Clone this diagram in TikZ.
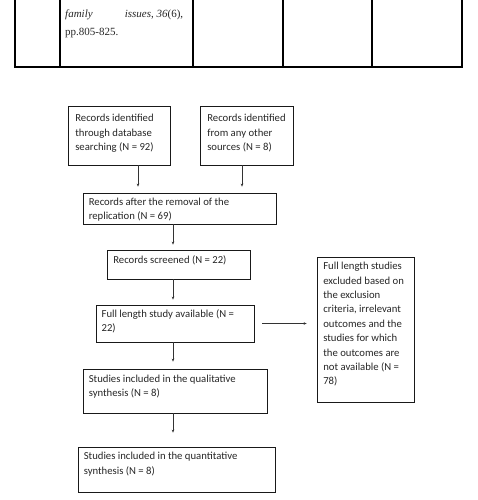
\documentclass[tikz,border=0pt]{standalone}
\usepackage{fontspec}
\setmainfont{Carlito}
\newfontfamily\tabfont{Liberation Serif}
\usetikzlibrary{arrows.meta,calc}
\begin{document}
\begin{tikzpicture}[x=1pt,y=-1pt,
 box/.style={draw=black!90, line width=0.8pt, inner sep=0pt, rectangle},
 txt/.style={anchor=north west, inner sep=0pt, align=left, font=\fontsize{10.7}{14.4}\selectfont, text=black!85},
 arr/.style={draw=black!80, line width=0.7pt, -{Stealth[length=3pt,width=2.6pt]}},
 tabline/.style={line width=1.1pt},
 tabtxt/.style={anchor=base west, inner sep=0pt, font=\tabfont\fontsize{11}{18}\selectfont, text=black!85}]
\useasboundingbox (0,0) rectangle (477,500);
% table fragment
\draw[tabline] (15,0) -- (15,67) -- (462,67) -- (462,0);
\foreach \x in {60,193,283,372} \draw[tabline] (\x,0) -- (\x,67);
\node[tabtxt] (ref1) at (65,18) {\hbox to 118pt{\textit{family}\hfil\textit{issues}, \textit{36}(6),}};
\node[tabtxt] (ref2) at (65,36) {pp.805-825.};
% boxes
\node[box, minimum width=102pt, minimum height=59pt] (b1) at (119,135.5) {};
\node[txt] (t1) at ([xshift=7.5pt,yshift=-8.5pt]b1.north west) {Records identified\\through database\\searching (N = 92)};
\node[box, minimum width=93pt, minimum height=59pt] (b2) at (246.5,135.5) {};
\node[txt] (t2) at ([xshift=7.5pt,yshift=-8.5pt]b2.north west) {Records identified\\from any other\\sources (N = 8)};
\node[box, minimum width=193pt, minimum height=31pt] (b3) at (179.5,208.5) {};
\node[txt] (t3) at ([xshift=6pt,yshift=-5.2pt]b3.north west) {Records after the removal of the\\replication (N = 69)};
\node[box, minimum width=143pt, minimum height=29pt] (b4) at (178.5,264.5) {};
\node[txt] (t4) at ([xshift=6.5pt,yshift=-5.8pt]b4.north west) {Records screened (N = 22)};
\node[box, minimum width=158pt, minimum height=37pt] (b5) at (175,323.5) {};
\node[txt] (t5) at ([xshift=5.8pt,yshift=-4.8pt]b5.north west) {Full length study available (N =\\22)};
\node[box, minimum width=184pt, minimum height=44pt] (b6) at (175,391) {};
\node[txt] (t6) at ([xshift=6pt,yshift=-5.8pt]b6.north west) {Studies included in the qualitative\\synthesis (N = 8)};
\node[box, minimum width=197pt, minimum height=45pt] (b7) at (176.5,469.5) {};
\node[txt] (t7) at ([xshift=6pt,yshift=-5.5pt]b7.north west) {Studies included in the quantitative\\synthesis (N = 8)};
\node[box, minimum width=97pt, minimum height=145pt] (b8) at (365.5,329.5) {};
\node[txt] (t8) at ([xshift=6.5pt,yshift=-5.5pt]b8.north west) {Full length studies\\excluded based on\\the exclusion\\criteria, irrelevant\\outcomes and the\\studies for which\\the outcomes are\\not available (N =\\78)};
% connectors
\draw[arr, shorten >=6pt] ([xshift=19pt]b1.south) -- ([xshift=19pt]b1.south |- b3.north);
\draw[arr, shorten >=6pt] ([xshift=-4.5pt]b2.south) -- ([xshift=-4.5pt]b2.south |- b3.north);
\draw[arr, shorten >=5pt] ([xshift=-6.5pt]b3.south) -- ([xshift=-6.5pt]b3.south |- b4.north);
\draw[arr, shorten >=5pt] ([xshift=-5.5pt]b4.south) -- ([xshift=-5.5pt]b4.south |- b5.north);
\draw[arr, shorten >=7pt] ([xshift=-2pt]b5.south) -- ([xshift=-2pt]b5.south |- b6.north);
\draw[arr, shorten >=14pt] ([xshift=-2pt]b6.south) -- ([xshift=-2pt]b6.south |- b7.north);
\draw[arr, shorten <=8pt, shorten >=10pt] (b5.east) -- (b5.east -| b8.west);
\end{tikzpicture}
\end{document}
